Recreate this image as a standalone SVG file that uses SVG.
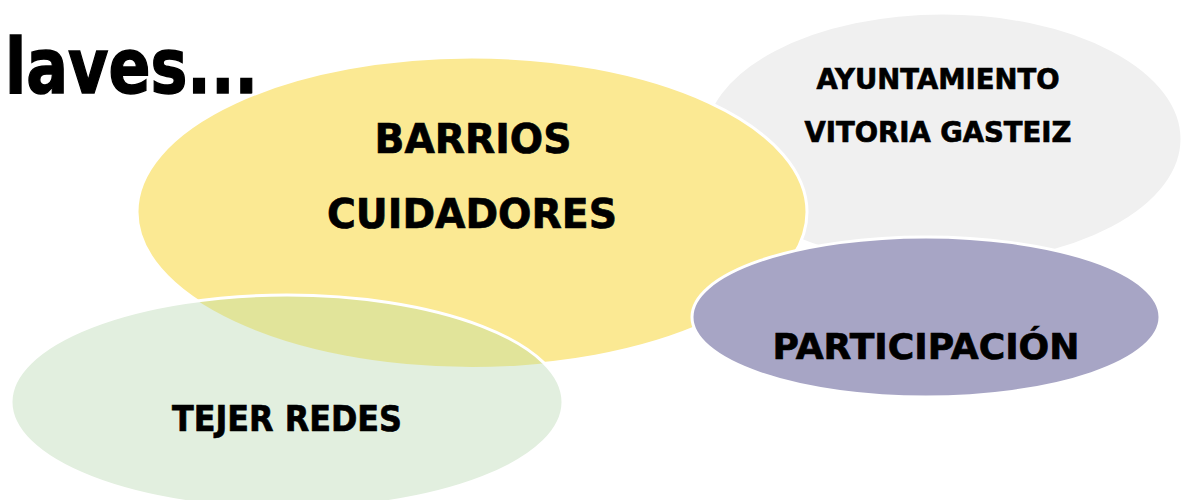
<svg xmlns="http://www.w3.org/2000/svg" width="1181" height="500" viewBox="0 0 1181 500">
<style>
.t{font-family:"DejaVu Sans","Liberation Sans",sans-serif;font-weight:bold;fill:#000;stroke:#000;stroke-width:0.7;text-anchor:middle}
.e{stroke:#fff;stroke-width:3}
</style>
<defs>
<clipPath id="yclip"><ellipse cx="472" cy="212" rx="335" ry="155"/></clipPath>
</defs>
<rect width="1181" height="500" fill="#fff"/>
<text id="title" x="5" y="93" font-family="DejaVu Sans, sans-serif" font-weight="bold" font-size="76" stroke="#000" stroke-width="1.5" textLength="253" lengthAdjust="spacingAndGlyphs">laves...</text>
<g id="ayuntamiento">
<ellipse class="e" cx="943" cy="139" rx="239" ry="126" fill="#f0f0f0"/>
<text class="t" x="938" y="89" font-size="29" textLength="243" lengthAdjust="spacingAndGlyphs">AYUNTAMIENTO</text>
<text class="t" x="938" y="142" font-size="29" textLength="267" lengthAdjust="spacingAndGlyphs">VITORIA GASTEIZ</text>
</g>
<g id="barrios">
<ellipse class="e" cx="472" cy="212" rx="335" ry="155" fill="#fbe993"/>
<text class="t" x="473" y="153" font-size="41" textLength="197" lengthAdjust="spacingAndGlyphs">BARRIOS</text>
<text class="t" x="472" y="228" font-size="41" textLength="290" lengthAdjust="spacingAndGlyphs">CUIDADORES</text>
</g>
<g id="participacion">
<ellipse class="e" cx="926" cy="317" rx="234" ry="80" fill="#a7a5c5"/>
<text class="t" x="926" y="359" font-size="36" textLength="307" lengthAdjust="spacingAndGlyphs">PARTICIPACIÓN</text>
</g>
<g id="tejer">
<ellipse cx="287" cy="402" rx="276" ry="107" fill="#e2efdf"/>
<ellipse cx="287" cy="402" rx="276" ry="107" fill="#e1e49a" clip-path="url(#yclip)"/>
<ellipse cx="287" cy="402" rx="276" ry="107" fill="none" stroke="#fff" stroke-width="3"/>
<text class="t" x="287" y="431" font-size="36" textLength="230" lengthAdjust="spacingAndGlyphs">TEJER REDES</text>
</g>
</svg>
